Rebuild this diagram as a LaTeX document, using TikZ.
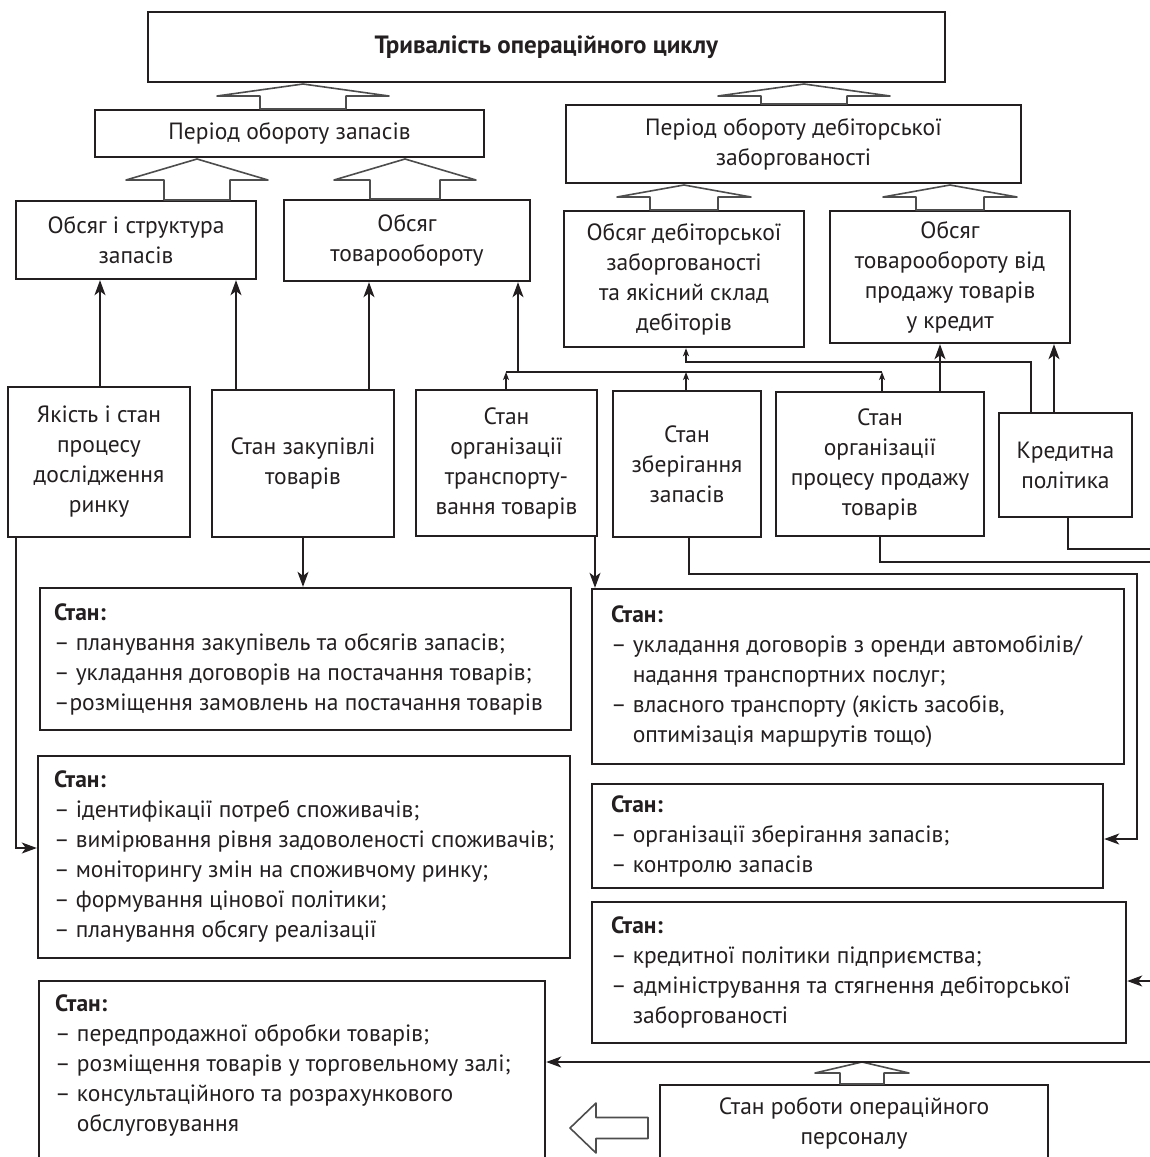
\documentclass[tikz,border=0pt]{standalone}
\usepackage{fontspec}
\setmainfont{PT Sans}
\usetikzlibrary{arrows.meta}
\definecolor{ink}{HTML}{231F20}
\definecolor{hol}{HTML}{4D4D4D}
\newcommand\dfont{\fontsize{23.5pt}{30pt}\selectfont}
\newcommand\hollowUp[6]{\draw[hollow] (#1,#2) -- ({#1+#5},#3) -- ({#1+#6},#3) -- ({#1+#6},#4) -- ({#1-#6},#4) -- ({#1-#6},#3) -- ({#1-#5},#3) -- cycle;}
\tikzset{
  box/.style={draw=ink, line width=2.4pt, inner sep=0pt, align=center, font=\dfont, text=ink},
  listbox/.style={draw=ink, line width=2.4pt, inner sep=0pt},
  listtext/.style={anchor=west, align=left, inner sep=0pt, font=\dfont, text=ink},
  conn/.style={draw=ink, line width=1.2pt},
  arrL/.style={conn, -{Stealth[length=15pt,width=11pt,inset=4pt]}},
  arrS/.style={conn, -{Stealth[length=8pt,width=6pt,inset=2pt]}},
  hollow/.style={draw=hol, line width=1.6pt, fill=white, line join=round}
}
\begin{document}
\begin{tikzpicture}[x=1pt,y=-1pt]
\useasboundingbox (0,0) rectangle (1150,1157);
\clip (0,0) rectangle (1150,1157);
\fill[white] (0,0) rectangle (1150,1157);

% top levels
\node[box, minimum width=797pt, minimum height=70pt, font=\fontsize{25pt}{30pt}\selectfont] (top) at (546.5,47) {\textbf{Тривалість операційного циклу}};
\node[box, minimum width=389pt, minimum height=47pt] (pz) at (289.5,133.5) {Період обороту запасів};
\node[box, minimum width=455pt, minimum height=78pt] (pd) at (793.5,144) {Період обороту дебіторської\\заборгованості};

\node[box, minimum width=240pt, minimum height=78pt] (b1) at (136,240) {Обсяг і структура\\запасів};
\node[box, minimum width=246pt, minimum height=81pt] (b2) at (407,240.5) {Обсяг\\товарообороту};
\node[box, minimum width=240pt, minimum height=136pt] (b3) at (684,279) {Обсяг дебіторської\\заборгованості\\та якісний склад\\дебіторів};
\node[box, minimum width=240pt, minimum height=132pt] (b4) at (950,277) {Обсяг\\товарообороту від\\продажу товарів\\у кредит};

% factor row
\node[box, minimum width=182pt, minimum height=150pt] (c1) at (99,462) {Якість і стан\\процесу\\дослідження\\ринку};
\node[box, minimum width=182pt, minimum height=147pt] (c2) at (303,463.5) {Стан закупівлі\\товарів};
\node[box, minimum width=181pt, minimum height=146pt] (c3) at (506.5,463) {Стан\\організації\\транспорту-\\вання товарів};
\node[box, minimum width=148pt, minimum height=146pt] (c4) at (687,464) {Стан\\зберігання\\запасів};
\node[box, minimum width=208pt, minimum height=144pt] (c5) at (880,464) {Стан\\організації\\процесу продажу\\товарів};
\node[box, minimum width=133pt, minimum height=104pt] (c6) at (1065.5,465) {Кредитна\\політика};

% list boxes
\node[listbox, minimum width=531pt, minimum height=142pt] (L1) at (305.5,659) {};
\node[listtext] (L1t) at ([xshift=15pt]L1.west) {\textbf{Стан:}\\– планування закупівель та обсягів запасів;\\– укладання договорів на постачання товарів;\\–розміщення замовлень на постачання товарів};

\node[listbox, minimum width=532pt, minimum height=175pt] (L2) at (858,676.5) {};
\node[listtext] (L2t) at ([xshift=20pt]L2.west) {\textbf{Стан:}\\– укладання договорів з оренди автомобілів/\\\phantom{– }надання транспортних послуг;\\– власного транспорту (якість засобів,\\\phantom{– }оптимізація маршрутів тощо)};

\node[listbox, minimum width=532pt, minimum height=202pt] (L3) at (304,857) {};
\node[listtext] (L3t) at ([xshift=17pt]L3.west) {\textbf{Стан:}\\– ідентифікації потреб споживачів;\\– вимірювання рівня задоволеності споживачів;\\– моніторингу змін на споживчому ринку;\\– формування цінової політики;\\– планування обсягу реалізації};

\node[listbox, minimum width=511pt, minimum height=104pt] (L4) at (847.5,836) {};
\node[listtext] (L4t) at ([xshift=20pt]L4.west) {\textbf{Стан:}\\– організації зберігання запасів;\\– контролю запасів};

\node[listbox, minimum width=534pt, minimum height=141pt] (L5) at (859,972.5) {};
\node[listtext] (L5t) at ([xshift=20pt]L5.west) {\textbf{Стан:}\\– кредитної політики підприємства;\\– адміністрування та стягнення дебіторської\\\phantom{– }заборгованості};

\node[listbox, anchor=north, minimum width=506pt, minimum height=200pt] (L6) at (292,980) {};
\node[listtext, anchor=north west] (L6t) at (55,995) {\textbf{Стан:}\\– передпродажної обробки товарів;\\– розміщення товарів у торговельному залі;\\– консультаційного та розрахункового\\\phantom{– }обслуговування};

\node[box, minimum width=388pt, minimum height=77pt] (R) at (854,1123.5) {Стан роботи операційного\\персоналу};

% hollow block arrows
\hollowUp{303}{84}{96}{109}{86}{43}
\hollowUp{804}{84}{96}{104}{86}{43}
\hollowUp{197}{159}{180}{200}{71}{33}
\hollowUp{405}{159}{180}{199}{71}{35}
\hollowUp{684}{185}{197}{210}{67}{34}
\hollowUp{950}{185}{197}{210}{67}{34}
\hollowUp{862}{1062}{1073}{1084}{47}{22}
\draw[hollow] (570,1128) -- (596,1103) -- (596,1117.5) -- (648,1117.5) -- (648,1138.5) -- (596,1138.5) -- (596,1153) -- cycle;

% connectors up to row 2
\draw[arrL] (100,0 |- c1.north) -- (100,0 |- b1.south);
\draw[arrL] (236,0 |- c2.north) -- (236,0 |- b1.south);
\draw[arrL] (369,0 |- c2.north) -- (369,0 |- b2.south);
\coordinate (j1) at (506,372);
\coordinate (j3) at (882,372);
\draw[conn] (j1) -- (j3);
\draw[arrL] (518,0 |- j1) -- (518,0 |- b2.south);
\draw[arrS] (506,0 |- c3.north) -- (j1);
\draw[arrS] (686,0 |- c4.north) -- (686,0 |- j1);
\draw[arrS] (882,0 |- c5.north) -- (j3);
\draw[arrS] (1031,0 |- c6.north) -- (1031,362) -- (686,362) -- (686,0 |- b3.south);
\draw[arrL] (940,0 |- c5.north) -- (940,0 |- b4.south);
\draw[arrL] (1054,0 |- c6.north) -- (1054,0 |- b4.south);

% connectors down to list boxes
\draw[arrL] (c2.south) -- (c2.south |- L1.north);
\draw[arrL] (595,0 |- c3.south) -- (595,0 |- L2.north);
\draw[arrL] (16,0 |- c1.south) -- (16,848) -- (L3.west |- 0,848);
\draw[arrL] (689,0 |- c4.south) -- (689,574) -- (1137,574) -- (1137,839) -- (L4.east |- 0,839);
\draw[conn] (880,0 |- c5.south) -- (880,562) -- (1155,562);
\draw[conn] (1068,0 |- c6.south) -- (1068,549) -- (1155,549);
\coordinate (e1) at (1155,981);
\coordinate (e2) at (1155,1062);
\draw[arrL] (e1) -- (L5.east |- e1);
\draw[arrL] (e2) -- (L6.east |- e2);
\end{tikzpicture}
\end{document}
